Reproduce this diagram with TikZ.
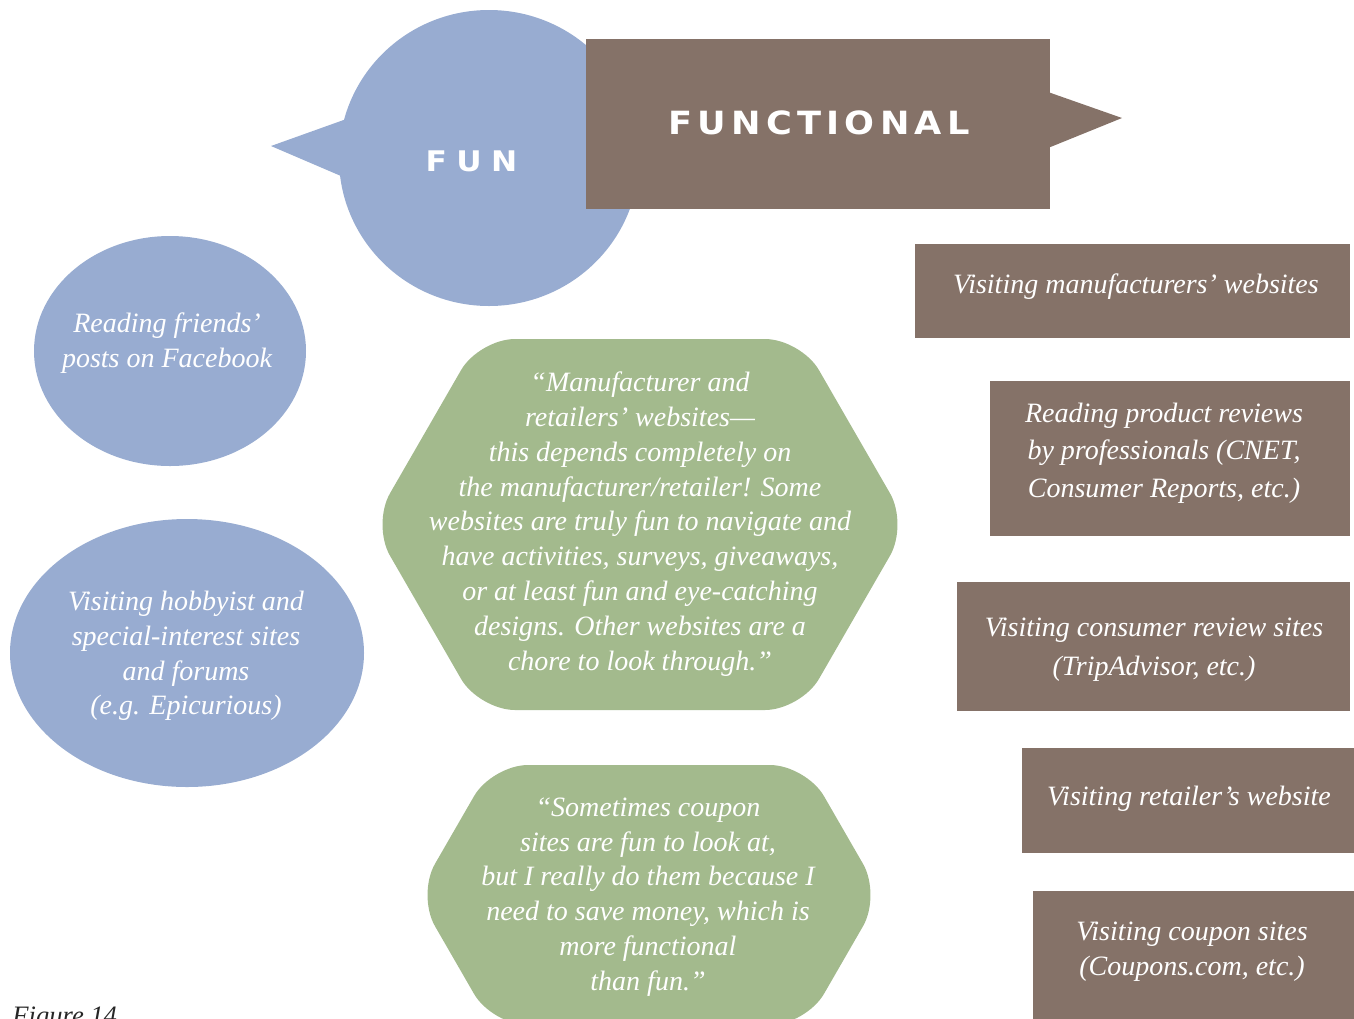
\documentclass[tikz,border=0pt]{standalone}
\usepackage{fontspec}
\setmainfont{Liberation Serif}
\newfontfamily\headfontA[LetterSpace=30]{DejaVu Sans}
\newfontfamily\headfontB[LetterSpace=15]{DejaVu Sans}
\usetikzlibrary{shapes.geometric}
\definecolor{funblue}{RGB}{152,172,209}
\definecolor{fnbrown}{RGB}{133,114,104}
\definecolor{quotegreen}{RGB}{163,186,141}
\newcommand\qbodyfont{\itshape\fontsize{14}{17.4}\selectfont}
\newcommand\widetitle[1]{\scalebox{1.1}[1]{#1}}
\tikzset{
  funtitle/.style={text=white, inner sep=0, font=\headfontA\bfseries\fontsize{14.2}{16}\selectfont},
  fntitle/.style={text=white, inner sep=0, font=\headfontB\bfseries\fontsize{16}{18}\selectfont},
  bodytext/.style={text=white, align=center, inner sep=0, font=\qbodyfont},
  widelines/.style={font=\itshape\fontsize{14}{#1}\selectfont},
  bluebub/.style={ellipse, fill=funblue, inner sep=0},
  brownbox/.style={rectangle, fill=fnbrown, inner sep=0},
  greenhex/.style={fill=quotegreen, rounded corners=18pt},
}
\begin{document}
\begin{tikzpicture}[x=0.5pt,y=-0.5pt]
\clip (0,0) rectangle (1354,1018);
% FUN speech bubble
\node[bluebub, minimum width=150pt, minimum height=148pt] (funbub) at (489,158) {};
\fill[funblue] (352,117) -- (271,146) -- (348,179) -- cycle;
\node[funtitle] (funlbl) at (471.5,161) {\widetitle{FUN}};
% FUNCTIONAL banner
\node[brownbox, minimum width=232pt, minimum height=85pt] (functional) at (818,124) {};
\fill[fnbrown] (1048,92) -- (1122,118) -- (1048,148) -- cycle;
\node[fntitle] (fnlbl) at (819,123) {\widetitle{FUNCTIONAL}};
% blue ellipses
\node[bluebub, minimum width=136pt, minimum height=115pt] (facebook) at (170,351) {};
\node[bodytext] (facebooktxt) at (167,343) {Reading friends’\\posts on Facebook};
\node[bluebub, minimum width=177pt, minimum height=134pt] (hobby) at (187,653) {};
\node[bodytext] (hobbytxt) at (186,656) {Visiting hobbyist and\\special-interest sites\\and forums\\(e.g. Epicurious)};
% green hexagons
\fill[greenhex] (372,524.5) -- (479,339) -- (801,339) -- (908,524.5) -- (801,710) -- (479,710) -- cycle;
\node[bodytext] (quoteone) at (640,524) {“Manufacturer and\\retailers’ websites—\\this depends completely on\\the manufacturer/retailer! Some\\websites are truly fun to navigate and\\have activities, surveys, giveaways,\\or at least fun and eye-catching\\designs. Other websites are a\\chore to look through.”};
\fill[greenhex] (417,895) -- (492,765) -- (806,765) -- (881,895) -- (806,1025) -- (492,1025) -- cycle;
\node[bodytext] (quotetwo) at (648,897) {“Sometimes coupon\\sites are fun to look at,\\but I really do them because I\\need to save money, which is\\more functional\\than fun.”};
% brown boxes
\node[brownbox, minimum width=217.5pt, minimum height=47pt] (manuf) at (1132.5,291) {};
\node[bodytext] (manuftxt) at (1136,287) {Visiting manufacturers’ websites};
\node[brownbox, minimum width=180pt, minimum height=77.5pt] (prof) at (1170,458.5) {};
\node[bodytext, widelines=18.75] (proftxt) at (1164,453) {Reading product reviews\\by professionals (CNET,\\Consumer Reports, etc.)};
\node[brownbox, minimum width=196.5pt, minimum height=64.5pt] (consumer) at (1153.5,646.5) {};
\node[bodytext, widelines=19.5] (consumertxt) at (1154,650) {Visiting consumer review sites\\(TripAdvisor, etc.)};
\node[brownbox, minimum width=166pt, minimum height=52.5pt] (retailer) at (1188,800.5) {};
\node[bodytext] (retailertxt) at (1189,799) {Visiting retailer’s website};
\node[brownbox, minimum width=160.5pt, minimum height=70pt] (coupon) at (1193.5,961) {};
\node[bodytext] (coupontxt) at (1192,952) {Visiting coupon sites\\(Coupons.com, etc.)};
% caption
\node[anchor=base west, inner sep=0, text=black!85, font=\itshape\fontsize{13.3}{15}\selectfont] (caption) at (12,1024) {Figure 14};
\end{tikzpicture}
\end{document}
